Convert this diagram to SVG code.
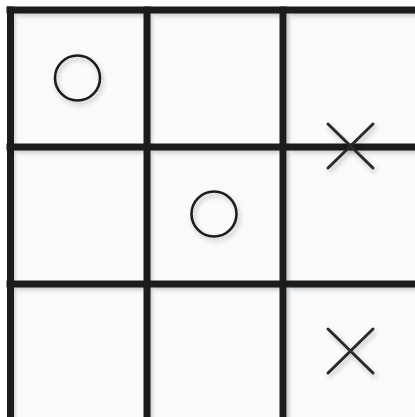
<svg xmlns="http://www.w3.org/2000/svg" width="415" height="417" viewBox="0 0 415 417">
  <defs>
    <linearGradient id="gTop" x1="0" y1="0" x2="0" y2="1">
      <stop offset="0" stop-color="#b8bec4" stop-opacity="0.9"/>
      <stop offset="1" stop-color="#ffffff" stop-opacity="0"/>
    </linearGradient>
    <linearGradient id="gLeft" x1="0" y1="0" x2="1" y2="0">
      <stop offset="0" stop-color="#b8bec4" stop-opacity="0.9"/>
      <stop offset="1" stop-color="#ffffff" stop-opacity="0"/>
    </linearGradient>
    <filter id="sh" x="-30%" y="-30%" width="160%" height="160%">
      <feGaussianBlur in="SourceAlpha" stdDeviation="2.5"/>
      <feOffset dx="2" dy="3" result="b"/>
      <feComponentTransfer><feFuncA type="linear" slope="0.25"/></feComponentTransfer>
      <feMerge><feMergeNode/><feMergeNode in="SourceGraphic"/></feMerge>
    </filter>
  </defs>
  <style>
    .grid { stroke: #1c1c1c; stroke-width: 7; stroke-linecap: square; fill: none; }
    .o { fill: none; stroke: #1e1e1e; stroke-width: 2.6; }
    .x { stroke: #2a2a2a; stroke-width: 3; stroke-linecap: round; fill: none; }
  </style>
  <rect width="415" height="417" fill="#ffffff"/>
  <rect x="10" y="10" width="405" height="407" fill="#fafafa"/>
  <g id="shading">
    <rect x="13" y="13" width="131" height="9" fill="url(#gTop)"/>
    <rect x="150" y="13" width="130" height="9" fill="url(#gTop)"/>
    <rect x="287" y="13" width="128" height="9" fill="url(#gTop)"/>
    <rect x="13" y="150" width="131" height="9" fill="url(#gTop)"/>
    <rect x="150" y="150" width="130" height="9" fill="url(#gTop)"/>
    <rect x="287" y="150" width="128" height="9" fill="url(#gTop)"/>
    <rect x="13" y="287" width="131" height="9" fill="url(#gTop)"/>
    <rect x="150" y="287" width="130" height="9" fill="url(#gTop)"/>
    <rect x="287" y="287" width="128" height="9" fill="url(#gTop)"/>
    <rect x="13" y="13" width="7" height="131" fill="url(#gLeft)"/>
    <rect x="150" y="13" width="7" height="131" fill="url(#gLeft)"/>
    <rect x="287" y="13" width="7" height="131" fill="url(#gLeft)"/>
    <rect x="13" y="150" width="7" height="131" fill="url(#gLeft)"/>
    <rect x="150" y="150" width="7" height="131" fill="url(#gLeft)"/>
    <rect x="287" y="150" width="7" height="131" fill="url(#gLeft)"/>
    <rect x="13" y="287" width="7" height="130" fill="url(#gLeft)"/>
    <rect x="150" y="287" width="7" height="130" fill="url(#gLeft)"/>
    <rect x="287" y="287" width="7" height="130" fill="url(#gLeft)"/>
  </g>
  <g id="grid" class="grid">
    <line x1="10.5" y1="10" x2="10.5" y2="417"/>
    <line x1="147" y1="10" x2="147" y2="417"/>
    <line x1="283" y1="10" x2="283" y2="417"/>
    <line x1="10" y1="10" x2="415" y2="10"/>
    <line x1="10" y1="147" x2="415" y2="147"/>
    <line x1="10" y1="284" x2="415" y2="284"/>
  </g>
  <g id="o1" filter="url(#sh)"><circle class="o" cx="77.5" cy="78" r="22.5"/></g>
  <g id="o2" filter="url(#sh)"><circle class="o" cx="214" cy="214" r="22.5"/></g>
  <g id="x1" filter="url(#sh)"><path class="x" d="M328 124 L373 168 M373 124 L328 168"/></g>
  <g id="x2" filter="url(#sh)"><path class="x" d="M328 329 L373 373 M373 329 L328 373"/></g>
</svg>
